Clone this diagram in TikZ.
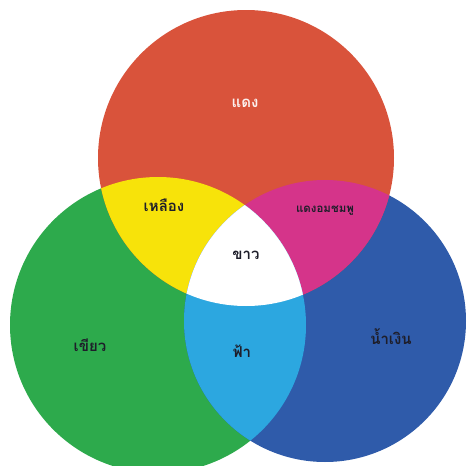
\documentclass[tikz,border=0pt]{standalone}
\usepackage{fontspec}
\newfontfamily\thaifont[Script=Thai]{Loma}
\definecolor{cred}{HTML}{D9533B}
\definecolor{cgreen}{HTML}{2DAA4C}
\definecolor{cblue}{HTML}{2F5BAA}
\definecolor{cyellow}{HTML}{F7E30A}
\definecolor{cmag}{HTML}{D5348A}
\definecolor{ccyan}{HTML}{2CA7E0}
\definecolor{ctext}{HTML}{1E1E2A}
\tikzset{lbl/.style={font=\thaifont\bfseries\fontsize{15}{17}\selectfont, text=ctext, inner sep=1pt}}
\begin{document}
\begin{tikzpicture}[x=1pt,y=-1pt]
\useasboundingbox (0,0) rectangle (475,466);
\fill[white] (0,0) rectangle (475,466);
\coordinate (R) at (246,158);
\coordinate (G) at (158,325);
\coordinate (B) at (325,321);
\def\rr{148}\def\rg{148}\def\rb{141}
\fill[cgreen] (G) circle (\rg);
\fill[cblue] (B) circle (\rb);
\fill[cred] (R) circle (\rr);
\begin{scope}
  \clip (R) circle (\rr);
  \fill[cyellow] (G) circle (\rg);
  \fill[cmag] (B) circle (\rb);
  \clip (G) circle (\rg);
  \fill[white] (B) circle (\rb);
\end{scope}
\begin{scope}
  \clip (G) circle (\rg);
  \clip (B) circle (\rb);
  \fill[ccyan] (0,0) rectangle (475,466);
  \fill[white] (R) circle (\rr);
\end{scope}
\node[lbl, text=white!92!cred] (tred) at (245,103) {แดง};
\node[lbl] (tyellow) at (164,205) {เหลือง};
\node[lbl, font=\thaifont\bfseries\fontsize{11.5}{13}\selectfont] (tmag) at (325,211) {แดงอมชมพู};
\node[lbl] (twhite) at (246,255) {ขาว};
\node[lbl] (tgreen) at (90,345) {เขียว};
\node[lbl] (tcyan) at (242,351) {ฟ้า};
\node[lbl] (tblue) at (391,337) {น้ำเงิน};
\end{tikzpicture}
\end{document}
